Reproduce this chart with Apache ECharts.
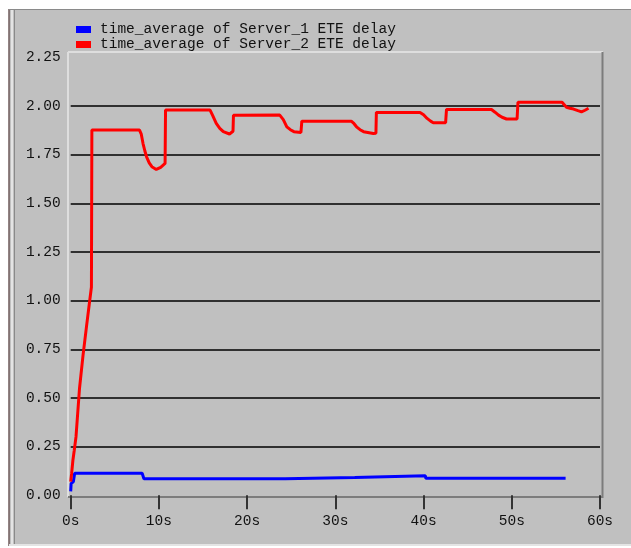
<!DOCTYPE html>
<html>
<head>
<meta charset="utf-8">
<script src="https://cdn.jsdelivr.net/npm/echarts@6/dist/echarts.min.js"></script>
<style>
  html, body { margin: 0; padding: 0; background: #ffffff; }
  #chart { width: 631px; height: 548px; }
</style>
</head>
<body>
<div id="chart"></div>
<script>
// Time-averaged end-to-end delay of two servers (seconds vs. simulation time)
const seriesNames = [
  'time_average of Server_1 ETE delay',
  'time_average of Server_2 ETE delay'
];

// Server_1: time (s) and delay (s)
const server1Times  = [0, 0.05, 0.3, 0.45, 8.1, 8.3, 24.3, 24.35, 32.2, 32.25, 40.2, 40.25, 56.1];
const server1Delays = [0.02, 0.06, 0.07, 0.113, 0.113, 0.085, 0.085, 0.091, 0.091, 0.100, 0.100, 0.088, 0.088];

// Server_2: time (s) and delay (s)
const server2Times = [
  0, 0.1, 0.25, 0.4, 0.6, 1.0, 1.4, 1.8, 2.1, 2.35, 2.4,
  7.8, 8.0, 8.2, 8.4, 8.6, 8.9, 9.2, 9.7, 10.2, 10.7, 10.75,
  15.8, 16.1, 16.5, 16.9, 17.3, 18.0, 18.4, 18.45,
  23.7, 24.1, 24.5, 24.9, 25.3, 26.1, 26.2,
  31.8, 32.1, 32.4, 32.8, 33.2, 34.3, 34.6, 34.65,
  39.6, 40.0, 40.4, 40.8, 41.1, 42.5, 42.6,
  47.7, 48.1, 48.5, 48.9, 49.4, 50.6, 50.7,
  55.7, 56.2, 56.6, 57.0, 57.5, 57.9, 58.3, 58.7
];
const server2Delays = [
  0.07, 0.11, 0.18, 0.23, 0.30, 0.55, 0.72, 0.87, 0.98, 1.07, 1.876,
  1.876, 1.855, 1.807, 1.770, 1.739, 1.708, 1.688, 1.674, 1.685, 1.705, 1.979,
  1.979, 1.950, 1.911, 1.885, 1.868, 1.856, 1.870, 1.952,
  1.953, 1.930, 1.893, 1.878, 1.868, 1.864, 1.922,
  1.922, 1.910, 1.893, 1.878, 1.868, 1.859, 1.860, 1.967,
  1.967, 1.955, 1.936, 1.922, 1.914, 1.914, 1.982,
  1.982, 1.968, 1.953, 1.942, 1.933, 1.933, 2.019,
  2.019, 1.993, 1.988, 1.984, 1.976, 1.970, 1.978, 1.988
];

// Axis ticks
const xTicks = [0, 10, 20, 30, 40, 50, 60];
const yTicks = [0, 0.25, 0.5, 0.75, 1.0, 1.25, 1.5, 1.75, 2.0, 2.25];

const pairs = (xs, ys) => xs.map((x, i) => [x, ys[i]]);

const FONT = "'Liberation Mono', 'DejaVu Sans Mono', monospace";
const PANEL = '#c0c0c0';

const chart = echarts.init(document.getElementById('chart'), null, { renderer: 'canvas' });

chart.setOption({
  backgroundColor: '#ffffff',
  animation: false,
  textStyle: { fontFamily: FONT },
  graphic: [
    // window panel
    { type: 'rect', z: -10, shape: { x: 9, y: 9, width: 622, height: 537 }, style: { fill: PANEL } },
    { type: 'line', z: -9, shape: { x1: 9, y1: 9, x2: 9, y2: 546 }, style: { stroke: '#6e5a5a', lineWidth: 1.5 } },
    { type: 'line', z: -9, shape: { x1: 12, y1: 9, x2: 12, y2: 546 }, style: { stroke: '#e4e4e4', lineWidth: 2 } },
    { type: 'line', z: -9, shape: { x1: 14.5, y1: 10, x2: 14.5, y2: 546 }, style: { stroke: '#8a8a8a', lineWidth: 1 } },
    { type: 'line', z: -9, shape: { x1: 9, y1: 9.5, x2: 631, y2: 9.5 }, style: { stroke: '#8a8a8a', lineWidth: 1 } },
    { type: 'line', z: -9, shape: { x1: 9, y1: 545, x2: 631, y2: 545 }, style: { stroke: '#e4e4e4', lineWidth: 2 } },
    // plot frame: light top/left, dark bottom/right
    { type: 'line', z: -5, shape: { x1: 68, y1: 52, x2: 603, y2: 52 }, style: { stroke: '#dedede', lineWidth: 2 } },
    { type: 'line', z: -5, shape: { x1: 68, y1: 52, x2: 68, y2: 497 }, style: { stroke: '#dedede', lineWidth: 2 } },
    { type: 'line', z: -5, shape: { x1: 68, y1: 497, x2: 603, y2: 497 }, style: { stroke: '#7c7c7c', lineWidth: 2 } },
    { type: 'line', z: -5, shape: { x1: 602.5, y1: 52, x2: 602.5, y2: 498 }, style: { stroke: '#7c7c7c', lineWidth: 2 } }
  ],
  legend: {
    orient: 'vertical',
    left: 76,
    top: 22,
    padding: 0,
    itemGap: 0,
    itemWidth: 15,
    itemHeight: 7,
    icon: 'rect',
    data: seriesNames,
    textStyle: {
      fontFamily: FONT,
      fontSize: 14.5,
      color: '#111111',
      lineHeight: 15,
      padding: [0, 0, 0, 4]
    }
  },
  grid: { left: 70.7, right: 31, top: 57.3, bottom: 52.7, containLabel: false },
  xAxis: {
    type: 'value',
    min: xTicks[0],
    max: xTicks[xTicks.length - 1],
    interval: 10,
    offset: 1.7,
    axisLine: { show: false },
    axisTick: { show: true, length: 14, lineStyle: { color: '#333333', width: 2 } },
    axisLabel: {
      fontFamily: FONT,
      fontSize: 14.5,
      color: '#111111',
      margin: 17,
      formatter: v => v + 's'
    },
    splitLine: { show: false }
  },
  yAxis: {
    type: 'value',
    min: yTicks[0],
    max: yTicks[yTicks.length - 1],
    interval: 0.25,
    axisLine: { show: false },
    axisTick: { show: false },
    axisLabel: {
      fontFamily: FONT,
      fontSize: 14.5,
      color: '#111111',
      margin: 10,
      padding: [0, 0, 6, 0],
      formatter: v => v.toFixed(2)
    },
    splitLine: {
      show: true,
      showMinLine: false,
      showMaxLine: false,
      lineStyle: { color: '#303030', width: 2 }
    }
  },
  series: [
    {
      name: seriesNames[0],
      type: 'line',
      data: pairs(server1Times, server1Delays),
      showSymbol: false,
      color: '#0000ff',
      lineStyle: { color: '#0000ff', width: 3 },
      z: 3
    },
    {
      name: seriesNames[1],
      type: 'line',
      data: pairs(server2Times, server2Delays),
      showSymbol: false,
      color: '#ff0000',
      lineStyle: { color: '#ff0000', width: 3 },
      z: 4
    }
  ]
});
</script>
</body>
</html>
